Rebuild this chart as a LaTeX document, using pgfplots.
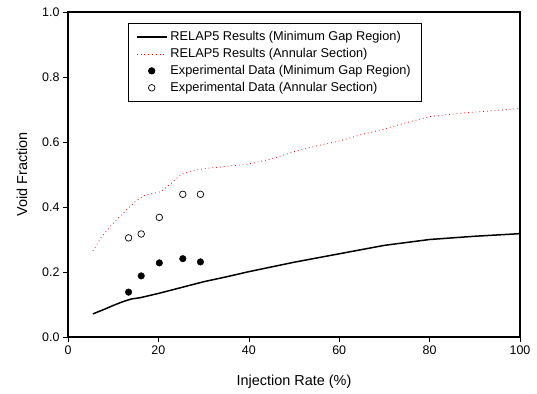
\documentclass[border=0pt]{standalone}
\usepackage{fontspec}
\setmainfont{Liberation Sans}
\usepackage{pgfplots}
\pgfplotsset{compat=1.18}
\begin{document}
\begin{tikzpicture}
\useasboundingbox (-68bp,-57bp) rectangle (469bp,337bp);
\begin{axis}[
  scale only axis,
  width=452bp, height=325bp,
  anchor=south west, at={(0,0)},
  xmin=0, xmax=100, ymin=0, ymax=1,
  xtick={0,20,40,60,80,100},
  ytick={0,0.2,0.4,0.6,0.8,1.0},
  yticklabel style={/pgf/number format/.cd,fixed,fixed zerofill,precision=1},
  /pgf/number format/assume math mode=true,
  tick align=outside,
  xtick pos=bottom, ytick pos=left,
  major tick length=5bp,
  axis line style={line width=1.3bp},
  tick style={line width=0.6bp, black},
  ticklabel style={font=\fontsize{12.5}{14}\selectfont},
  label style={font=\fontsize{14.5}{16}\selectfont},
  xlabel={Injection Rate (\%)},
  ylabel={Void Fraction},
  xlabel style={at={(axis description cs:0.5,-0.138)}, anchor=center},
  ylabel style={at={(axis description cs:-0.102,0.5)}, anchor=center},
  legend style={at={(rel axis cs:0.132,0.965)}, anchor=north west,
    draw=black, line width=0.6bp, font=\fontsize{12.8}{14}\selectfont,
    inner xsep=8bp, inner ysep=6bp, row sep=2.2bp,
    nodes={inner xsep=3bp}},
  legend image code/.code={\draw[mark repeat=2,mark phase=2,#1] plot coordinates {(0bp,0bp) (15bp,0bp) (30bp,0bp)};},
  legend cell align=left,
]
\addplot[black, line width=1.5bp] coordinates {
(5.5,0.071) (8,0.085) (10,0.097) (12,0.108) (14,0.117) (16,0.121) (20,0.134)
(25,0.152) (30,0.170) (35,0.185) (40,0.201) (50,0.230) (60,0.256) (70,0.282)
(80,0.300) (90,0.310) (100,0.318)};
\addlegendentry{RELAP5 Results (Minimum Gap Region)}
\addplot[red, line width=0.8bp, dash pattern=on 0.8bp off 3bp] coordinates {
(5.5,0.265) (7.5,0.31) (10,0.35) (12.5,0.385) (15,0.418) (17,0.437) (20,0.445)
(21,0.452) (23,0.475) (25,0.50) (27,0.51) (30,0.518) (35,0.525) (40,0.532)
(45,0.548) (50,0.57) (55,0.588) (60,0.603) (65,0.623) (70,0.64) (75,0.66)
(80,0.678) (85,0.686) (90,0.692) (100,0.703)};
\addlegendentry{RELAP5 Results (Annular Section)}
\addplot[only marks, mark=*, mark size=3.3bp, black] coordinates {
(13.4,0.138) (16.2,0.188) (20.2,0.228) (25.4,0.241) (29.3,0.231)};
\addlegendentry{Experimental Data (Minimum Gap Region)}
\addplot[only marks, mark=o, mark size=3.3bp, black, mark options={line width=0.7bp, fill=white}] coordinates {
(13.4,0.305) (16.2,0.317) (20.2,0.368) (25.4,0.439) (29.3,0.439)};
\addlegendentry{Experimental Data (Annular Section)}
\end{axis}
\end{tikzpicture}
\end{document}
